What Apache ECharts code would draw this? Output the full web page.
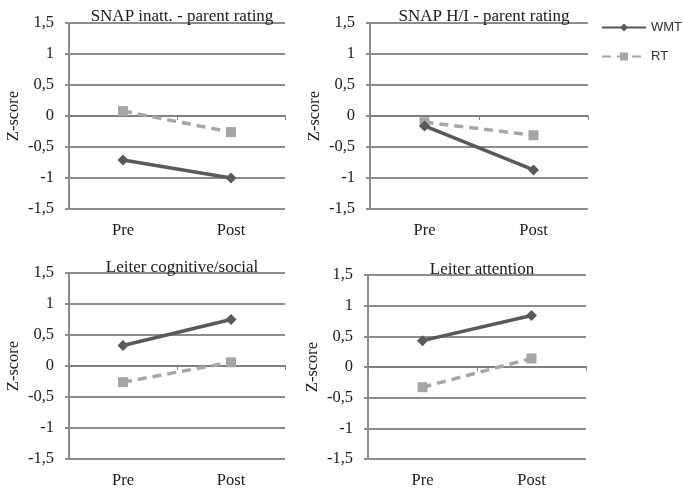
<!DOCTYPE html>
<html>
<head>
<meta charset="utf-8">
<script src="https://cdn.jsdelivr.net/npm/echarts@6/dist/echarts.min.js"></script>
<style>
html,body{margin:0;padding:0;background:#fff;}
#c{width:683px;height:489px;}
</style>
</head>
<body>
<div id="c"></div>
<script>
var categories = ['Pre', 'Post'];
var panelTitles = ['SNAP inatt. - parent rating', 'SNAP H/I - parent rating', 'Leiter cognitive/social', 'Leiter attention'];
var wmtSnapInatt = [-0.71, -1.0];
var wmtSnapHI = [-0.16, -0.87];
var wmtLeiterCog = [0.33, 0.75];
var wmtLeiterAtt = [0.43, 0.84];
var rtSnapInatt = [0.08, -0.26];
var rtSnapHI = [-0.10, -0.31];
var rtLeiterCog = [-0.26, 0.06];
var rtLeiterAtt = [-0.33, 0.14];
var yMin = -1.5, yMax = 1.5, yStep = 0.5;
var yAxisName = 'Z-score';
var seriesNames = ['WMT', 'RT'];

var wmtData = [wmtSnapInatt, wmtSnapHI, wmtLeiterCog, wmtLeiterAtt];
var rtData = [rtSnapInatt, rtSnapHI, rtLeiterCog, rtLeiterAtt];

var serif = '"Liberation Serif", "Times New Roman", serif';
var txt = '#1a1a1a';
var gridCol = '#8c8c8c';
var grids = [
  {left: 69, right: 398, top: 23, bottom: 280},
  {left: 370, right: 95, top: 23, bottom: 280},
  {left: 69, right: 398, top: 273, bottom: 29},
  {left: 368, right: 97, top: 275, bottom: 29}
];
var titleTops = [3, 3, 254, 256];

var option = {
  animation: false,
  backgroundColor: '#fff',
  title: [],
  grid: [],
  xAxis: [],
  yAxis: [],
  series: [],
  legend: {
    orient: 'vertical',
    left: 601,
    top: 21,
    padding: 0,
    itemWidth: 44,
    itemHeight: 10,
    itemGap: 16,
    data: seriesNames,
    textStyle: {fontFamily: '"Liberation Sans", Arial, sans-serif', fontSize: 13, color: '#333'}
  }
};

grids.forEach(function (g, i) {
  option.grid.push({left: g.left, right: g.right, top: g.top, bottom: g.bottom, containLabel: false});
  var cx = g.left + (683 - g.right - g.left) / 2;
  option.title.push({
    text: panelTitles[i], left: cx, top: titleTops[i], textAlign: 'center',
    textStyle: {fontFamily: serif, fontSize: 17, fontWeight: 'normal', color: txt}
  });
  // label axis at bottom
  option.xAxis.push({
    type: 'category', gridIndex: i, data: categories, position: 'bottom',
    boundaryGap: true,
    axisLine: {show: false, onZero: false},
    axisTick: {show: false},
    axisLabel: {fontFamily: serif, fontSize: 16.5, color: txt, margin: 13},
    splitLine: {show: false}
  });
  // zero axis line with boundary ticks
  option.xAxis.push({
    type: 'category', gridIndex: i, data: categories, position: 'top',
    boundaryGap: true,
    axisLine: {show: true, onZero: true, lineStyle: {color: '#7f7f7f', width: 2}},
    axisTick: {show: true, inside: true, length: 4, lineStyle: {color: '#7f7f7f', width: 1}},
    axisLabel: {show: false},
    splitLine: {show: false}
  });
  option.yAxis.push({
    type: 'value', gridIndex: i, min: yMin, max: yMax, interval: yStep,
    name: yAxisName, nameLocation: 'middle', nameGap: 47, nameRotate: 90,
    nameTextStyle: {fontFamily: serif, fontSize: 16.5, color: txt},
    axisLine: {show: true, lineStyle: {color: gridCol, width: 2}},
    axisTick: {show: true, length: 4, lineStyle: {color: gridCol, width: 2}},
    axisLabel: {fontFamily: serif, fontSize: 16.5, color: txt, margin: 15,
      formatter: function (v) { return String(v).replace('.', ','); }},
    splitLine: {show: true, lineStyle: {color: gridCol, width: 2}}
  });
  option.series.push({
    name: seriesNames[0], type: 'line', xAxisIndex: i * 2, yAxisIndex: i,
    data: wmtData[i], symbol: 'diamond', symbolSize: 11,
    lineStyle: {color: '#595959', width: 3.5},
    itemStyle: {color: '#595959'}, z: 4
  });
  option.series.push({
    name: seriesNames[1], type: 'line', xAxisIndex: i * 2, yAxisIndex: i,
    data: rtData[i], symbol: 'rect', symbolSize: 10,
    lineStyle: {color: '#a6a6a6', width: 3.5, type: [9, 6]},
    itemStyle: {color: '#a6a6a6'}, z: 3
  });
});

var chart = echarts.init(document.getElementById('c'), null, {renderer: 'canvas'});
chart.setOption(option);
</script>
</body>
</html>
